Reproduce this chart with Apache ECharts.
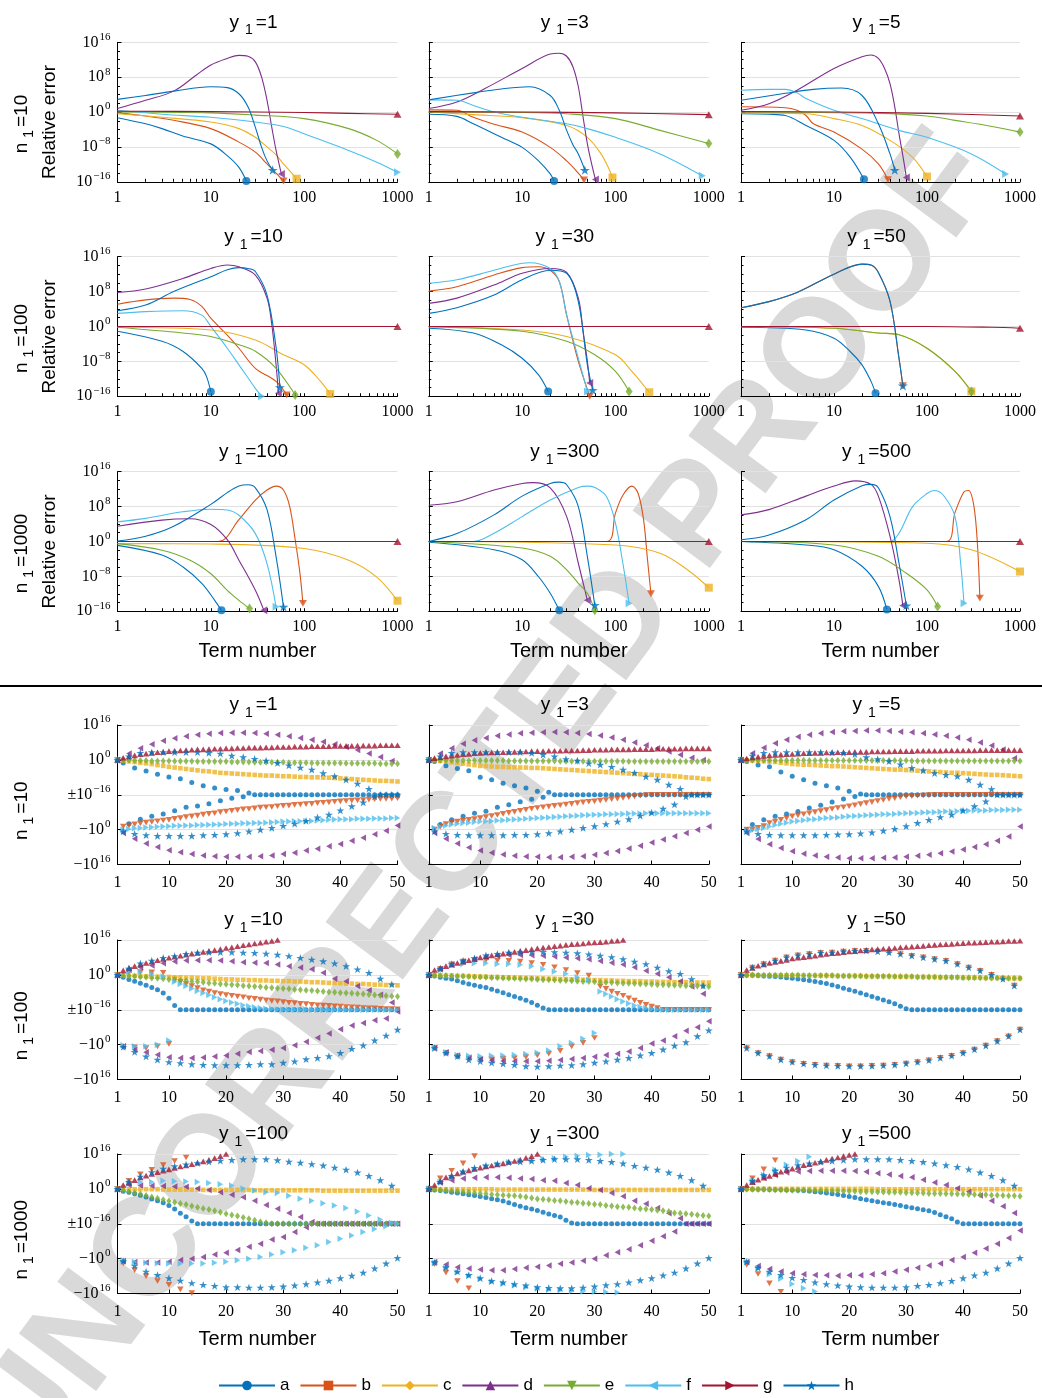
<!DOCTYPE html>
<html><head><meta charset="utf-8">
<script src="https://cdn.jsdelivr.net/npm/echarts@6/dist/echarts.min.js"></script>
<style>html,body{margin:0;padding:0;background:#fff}#c{width:1042px;height:1398px}</style>
</head><body><div id="c"></div>
<script>
// ---------- TOP PANELS: [term, log10(relative error)] ----------
const T1_a=[[1,-1.3],[2,-2.7],[3,-3.8],[5,-5.5],[10,-7.3],[15,-10],[20,-12.7],[24,-15.8]];
const T1_b=[[1,-0.2],[2,-0.9],[4,-1.9],[10,-3.8],[20,-6.9],[30,-9.2],[40,-11.9],[50,-14],[60,-15.8]];
const T1_c=[[1,-0.4],[3,-1.2],[10,-2.3],[20,-3.8],[30,-5.8],[40,-8],[50,-9.8],[60,-11.9],[70,-13.5],[83,-15.3]];
const T1_d=[[1,0.8],[2,2.7],[4,4.8],[7,8.5],[10,10.8],[15,12.3],[20,13],[25,12.8],[30,11.5],[35,8],[40,2.7],[45,-3.5],[50,-8.8],[57,-14.2]];
const T1_e=[[1,0],[10,-0.2],[30,-0.7],[100,-1.5],[300,-3.8],[600,-6.5],[1000,-9.6]];
const T1_f=[[1,0.4],[3,-0.5],[10,-1.2],[30,-2.3],[60,-3.3],[100,-5],[300,-8.8],[600,-11.5],[1000,-13.8]];
const T1_g=[[1,0.2],[10,0.1],[100,-0.1],[300,-0.3],[1000,-0.5]];
const T1_h=[[1,2.9],[2,3.8],[4,4.8],[10,5.8],[15,5.6],[20,4.2],[25,1.2],[30,-3.5],[35,-8.1],[40,-11.2],[46,-13.3]];

const T2_a=[[1,-0.5],[2,-1],[3,-2.7],[6,-5.8],[10,-8.1],[15,-11.2],[20,-14.2],[22,-15.8]];
const T2_b=[[1,0.5],[2,0.4],[3,-1.2],[5,-2.8],[10,-4.6],[20,-8.1],[30,-11.2],[40,-14],[46,-15.6]];
const T2_c=[[1,0],[3,-0.6],[10,-1.3],[30,-3.1],[50,-5.8],[70,-9.6],[85,-13],[93,-15]];
const T2_d=[[1,0.8],[2,2.3],[4,5.4],[10,10],[20,13.3],[25,13.5],[30,12.8],[35,10.4],[40,5.8],[45,-1.2],[50,-7.3],[55,-11.5],[61,-15.5]];
const T2_e=[[1,0],[10,-0.1],[30,-0.4],[100,-1.5],[300,-4.2],[1000,-7.2]];
const T2_f=[[1,2.8],[2,2.7],[3,1.5],[5,0],[10,-1.2],[30,-2.7],[50,-3.8],[100,-5.8],[300,-9.6],[850,-14.6]];
const T2_g=[[1,0.1],[10,0],[100,-0.2],[1000,-0.6]];
const T2_h=[[1,2.8],[3,4.4],[6,5.3],[12,5.8],[20,3.8],[25,0.4],[30,-4.2],[35,-7.5],[40,-9.6],[47,-13.3]];

const T3_a=[[1,-0.4],[2,-0.5],[3,-0.8],[5,-3.1],[10,-6.5],[15,-10.4],[21,-15.4]];
const T3_b=[[1,1.2],[3,1],[4,0.4],[5,-0.8],[6,-2.7],[10,-4.6],[20,-8.5],[30,-11.9],[38,-15.5]];
const T3_c=[[1,-0.2],[5,-0.4],[10,-1.5],[20,-3.1],[40,-6.5],[70,-10.4],[100,-14.8]];
const T3_d=[[1,0.4],[2,1.9],[4,5],[10,10],[20,12.7],[25,13.1],[30,12.3],[35,10],[40,6.5],[45,1.2],[50,-5],[55,-10],[60,-15]];
const T3_e=[[1,0],[30,-0.3],[100,-0.9],[200,-1.9],[500,-3.3],[1000,-4.6]];
const T3_f=[[1,5],[2,5.2],[3,5.2],[4,4.4],[5,3.1],[10,0.4],[20,-1.5],[50,-4.2],[100,-5.8],[300,-9.6],[700,-14.2]];
const T3_g=[[1,0.1],[10,0],[100,-0.3],[1000,-0.9]];
const T3_h=[[1,2.7],[3,4.3],[6,5.2],[12,5.5],[20,3.8],[30,-2.7],[40,-9.6],[45,-13.3]];

const T4_a=[[1,-1.1],[3,-3.4],[5,-5.7],[8,-9.6],[9,-11.5],[10,-15]];
const T4_b=[[1,5.1],[2,6.1],[4,6.5],[6,6.2],[8,4.6],[10,1.9],[15,-2],[20,-5],[30,-9.6],[50,-12.6],[65,-15.7]];
const T4_c=[[1,-0.2],[10,-0.8],[30,-3.1],[60,-6.5],[100,-8.8],[150,-12.6],[190,-15.5]];
const T4_d=[[1,7.8],[2,8.6],[5,11],[10,13.3],[15,14.1],[20,13.7],[30,11.8],[40,6.5],[45,0.4],[50,-8.8],[53,-15.3]];
const T4_e=[[1,-0.2],[5,-1.5],[10,-2.3],[20,-4.2],[30,-5.7],[50,-9.6],[80,-15.7]];
const T4_f=[[1,3],[2,3.4],[5,3.6],[8,2.6],[10,0],[15,-5],[20,-8.8],[30,-14.2],[35,-16]];
const T4_g=[[1,0],[10,0],[100,0],[1000,0]];
const T4_h=[[1,3.6],[2,4.9],[4,8],[10,11.4],[15,13],[20,13.5],[25,13.3],[30,12.6],[40,7.2],[50,-4.8],[55,-14]];

const T5_a=[[1,-0.4],[3,-1.5],[6,-4.2],[10,-7.3],[15,-11.1],[19,-14.9]];
const T5_b=[[1,8.1],[2,9.1],[5,11.8],[10,13.5],[15,13.7],[20,12.9],[25,10.3],[30,2.6],[40,-8],[53,-16]];
const T5_c=[[1,0],[10,-0.8],[30,-2.3],[100,-6.5],[150,-10.3],[230,-15.1]];
const T5_d=[[1,5.3],[2,6.5],[5,9.5],[10,12.2],[20,13.3],[30,12.4],[40,6.5],[45,-1.2],[50,-8],[53,-13]];
const T5_e=[[1,-0.1],[10,-1.1],[30,-3.4],[60,-6.5],[100,-10.3],[140,-14.9]];
const T5_f=[[1,9.9],[2,10.7],[5,12.9],[10,14.5],[12,14.6],[20,13.3],[25,10.3],[30,2.6],[40,-7.3],[50,-14.9]];
const T5_g=[[1,0],[1000,0]];
const T5_h=[[1,3],[2,4.3],[5,7.2],[10,10.7],[20,12.9],[30,12.2],[40,5.7],[50,-8.8],[57,-14.6]];

const T6_a=[[1,-0.2],[5,-0.8],[10,-2.7],[15,-5.8],[20,-8.8],[25,-12.6],[28,-15.3]];
const T6_ce=[[1,0],[10,-0.4],[30,-1.5],[50,-1.9],[100,-5],[200,-10.3],[300,-14.9]];
const T6_g=[[1,0],[100,0],[500,-0.2],[1000,-0.4]];
const T6_h=[[1,4.3],[2,5.7],[4,7.8],[10,12],[20,14.3],[25,14.1],[30,12.4],[40,5.8],[50,-7.3],[55,-13.6]];

const T7_a=[[1,-0.9],[3,-3.1],[5,-5.8],[8,-9.6],[11,-13.5],[13,-15.8]];
const T7_b=[[1,0],[12,0],[20,5],[30,9.5],[40,11.8],[50,12.7],[60,11.8],[70,8],[80,0.5],[90,-7.2],[97,-14.2]];
const T7_c=[[1,-0.5],[10,-0.6],[100,-1.6],[300,-4.3],[600,-8.2],[1000,-13.6]];
const T7_d=[[1,3.5],[3,4.9],[6,5.2],[10,3.9],[15,0.4],[20,-4.3],[30,-11.2],[37,-15.8]];
const T7_e=[[1,-0.5],[3,-2],[6,-4.3],[10,-7.4],[15,-11.2],[20,-13.5],[26,-15.4]];
const T7_f=[[1,4.5],[2,5.3],[5,6.8],[10,7.4],[15,7.2],[20,6],[30,1.8],[40,-5.1],[50,-15]];
const T7_g=[[1,0],[1000,0]];
const T7_h=[[1,0.1],[2,1.2],[4,3.5],[10,8.5],[15,11.2],[20,12.7],[25,13],[30,12.3],[40,7.3],[50,-3.5],[60,-15]];

const T8_a=[[1,-0.2],[5,-1.9],[10,-4.2],[15,-8.1],[20,-11.9],[25,-15.8]];
const T8_b=[[1,0],[80,0],[100,6.5],[120,10.6],[150,12.7],[175,11],[200,5],[220,-4],[240,-12]];
const T8_c=[[1,0],[100,-0.8],[300,-2.7],[600,-6.6],[1000,-10.6]];
const T8_d=[[1,8.3],[2,9.1],[5,11.8],[10,13.3],[13,13.5],[20,12.3],[30,5.7],[40,-5],[50,-13.5]];
const T8_e=[[1,0],[10,-1.5],[20,-3.4],[30,-6.5],[40,-9.6],[50,-11.9],[60,-15.8]];
const T8_f=[[1,0],[3,0],[5,1.9],[10,5.7],[20,9.5],[40,12.4],[50,12.7],[60,12.4],[80,10.3],[100,4.2],[120,-5],[140,-14.2]];
const T8_g=[[1,0],[1000,0]];
const T8_h=[[1,0],[2,1.8],[5,6.1],[10,10.4],[20,13.3],[25,13.6],[30,13],[40,8],[50,-3.5],[60,-14.6]];

const T9_a=[[1,0],[5,-0.8],[10,-1.9],[20,-5.7],[30,-10.3],[37,-15.6]];
const T9_b=[[1,0],[160,0],[200,6.6],[250,11.4],[280,11.7],[320,8],[350,-1.2],[370,-13]];
const T9_c=[[1,0],[100,-0.4],[300,-1.9],[1000,-6.9]];
const T9_d=[[1,6.1],[2,7.3],[5,10.4],[10,12.7],[17,13.9],[25,13.1],[30,10.4],[40,1.2],[50,-8.8],[55,-14.7]];
const T9_e=[[1,0],[10,-0.8],[30,-3.4],[60,-7.3],[100,-11.1],[130,-14.9]];
const T9_f=[[1,0],[40,0],[50,1.9],[70,8],[100,11],[120,11.7],[150,10.6],[200,5.7],[230,-5],[250,-14.2]];
const T9_g=[[1,0],[1000,0]];
const T9_h=[[1,0.4],[2,1.5],[5,5],[10,9.5],[20,12.8],[25,13.1],[30,12.3],[40,5.7],[50,-5],[60,-14.7]];

// ---------- BOTTOM PANELS: signed-log coordinate for terms 1..50 ----------
// +2 = 1e16, +1 = 1e0, 0 = ±1e-16, -1 = -1e0, -2 = -1e16
const B1_a=[1,0.91,-0.83,0.77,-0.7,0.68,-0.62,0.59,-0.55,0.51,-0.46,0.46,-0.36,0.35,-0.32,0.26,-0.26,0.19,-0.17,0.15,-0.1,0.12,-0.06,0.05,0,0,0,0,0,0,0,0,0,0,0,0,0,0,0,0,0,0,0,0,0,0,0,0,0,0];
const B1_b=[1,-0.91,-0.88,-0.85,-0.82,-0.8,-0.78,-0.76,-0.74,-0.72,-0.69,-0.67,-0.64,-0.62,-0.6,-0.57,-0.55,-0.53,-0.5,-0.48,-0.46,-0.44,-0.42,-0.41,-0.39,-0.37,-0.36,-0.35,-0.33,-0.32,-0.31,-0.29,-0.28,-0.27,-0.26,-0.24,-0.23,-0.22,-0.2,-0.19,-0.18,-0.17,-0.16,-0.15,-0.14,-0.13,-0.12,-0.12,-0.11,-0.1];
const B1_c=[1,0.98,0.96,0.94,0.92,0.9,0.88,0.85,0.83,0.8,0.78,0.76,0.74,0.72,0.7,0.68,0.67,0.65,0.63,0.62,0.61,0.6,0.59,0.58,0.57,0.56,0.55,0.55,0.54,0.53,0.53,0.52,0.51,0.51,0.5,0.5,0.49,0.49,0.48,0.47,0.46,0.45,0.44,0.43,0.42,0.41,0.4,0.4,0.39,0.38];
const B1_d=[1,-1.1,1.18,-1.26,1.33,-1.4,1.45,-1.5,1.55,-1.59,1.62,-1.65,1.68,-1.7,1.72,-1.74,1.75,-1.76,1.77,-1.78,1.78,-1.78,1.78,-1.78,1.77,-1.76,1.75,-1.74,1.72,-1.7,1.68,-1.66,1.63,-1.6,1.58,-1.55,1.52,-1.48,1.45,-1.41,1.37,-1.32,1.28,-1.23,1.18,-1.13,1.08,-1.03,0.97,-0.88];
const B1_e=[1,0.99,0.99,0.98,0.98,0.98,0.97,0.97,0.97,0.97,0.96,0.96,0.96,0.96,0.95,0.95,0.95,0.95,0.95,0.95,0.94,0.94,0.94,0.94,0.93,0.93,0.93,0.93,0.93,0.93,0.92,0.92,0.92,0.92,0.91,0.91,0.91,0.91,0.91,0.91,0.9,0.9,0.9,0.9,0.9,0.9,0.89,0.89,0.89,0.89];
const B1_f=[1,-1,-0.98,-0.96,-0.95,-0.94,-0.93,-0.92,-0.91,-0.9,-0.89,-0.89,-0.88,-0.88,-0.87,-0.87,-0.86,-0.85,-0.85,-0.84,-0.83,-0.83,-0.82,-0.82,-0.81,-0.81,-0.8,-0.79,-0.78,-0.77,-0.77,-0.76,-0.76,-0.75,-0.75,-0.74,-0.73,-0.72,-0.71,-0.7,-0.7,-0.7,-0.69,-0.69,-0.69,-0.68,-0.68,-0.68,-0.67,-0.67];
const B1_g=[1,1.06,1.1,1.13,1.16,1.18,1.2,1.22,1.23,1.25,1.26,1.27,1.28,1.29,1.3,1.3,1.31,1.32,1.32,1.33,1.33,1.34,1.34,1.35,1.35,1.35,1.36,1.36,1.37,1.37,1.37,1.38,1.38,1.38,1.39,1.39,1.39,1.39,1.4,1.4,1.4,1.4,1.41,1.41,1.41,1.41,1.42,1.42,1.42,1.42];
const B1_h=[1,-1.05,1.1,-1.12,1.2,-1.16,1.22,-1.18,1.22,-1.18,1.22,-1.18,1.22,-1.18,1.22,-1.16,1.2,-1.15,1.18,-1.13,1.12,-1.1,1.08,-1.05,1.03,-1,0.98,-0.95,0.91,-0.89,0.84,-0.83,0.78,-0.75,0.72,-0.65,0.62,-0.57,0.53,-0.45,0.43,-0.33,0.32,-0.22,0.17,-0.05,0,0,0,0];

const B2_a=[1,0.95,-0.85,0.83,-0.72,0.75,-0.62,0.69,-0.53,0.5,-0.47,0.43,-0.36,0.33,-0.29,0.26,-0.2,0.19,-0.13,0.1,-0.07,0.07,0,0,0,0,0,0,0,0,0,0,0,0,0,0,0,0,0,0,0,0,0,0,0,0,0,0,0,0];
const B2_b=[1,-1,-0.92,-0.84,-0.8,-0.77,-0.75,-0.72,-0.7,-0.67,-0.64,-0.61,-0.58,-0.55,-0.52,-0.49,-0.46,-0.43,-0.4,-0.38,-0.36,-0.34,-0.32,-0.3,-0.28,-0.26,-0.24,-0.22,-0.2,-0.19,-0.17,-0.15,-0.13,-0.11,-0.09,-0.07,-0.05,-0.03,-0.01,0,0,0,0,0,0,0,0,0,0,0];
const B2_c=[1,0.99,0.97,0.95,0.93,0.91,0.89,0.87,0.85,0.83,0.82,0.81,0.8,0.8,0.79,0.79,0.78,0.78,0.77,0.77,0.76,0.75,0.74,0.73,0.72,0.71,0.7,0.69,0.68,0.67,0.66,0.65,0.64,0.63,0.62,0.61,0.6,0.59,0.58,0.57,0.56,0.55,0.54,0.53,0.52,0.5,0.49,0.48,0.46,0.45];
const B2_d=[1,-1.1,1.18,-1.26,1.33,-1.4,1.46,-1.51,1.56,-1.6,1.63,-1.66,1.69,-1.71,1.73,-1.75,1.76,-1.77,1.78,-1.78,1.79,-1.79,1.8,-1.79,1.79,-1.78,1.77,-1.76,1.74,-1.72,1.7,-1.67,1.64,-1.61,1.58,-1.54,1.5,-1.46,1.42,-1.37,1.33,-1.28,1.24,-1.19,1.15,-1.1,1.06,-1,1,-0.91];
const B2_e=[1,0.99,0.99,0.99,0.99,0.99,0.98,0.98,0.98,0.98,0.98,0.98,0.98,0.98,0.97,0.97,0.97,0.97,0.97,0.97,0.97,0.97,0.97,0.96,0.96,0.96,0.96,0.96,0.96,0.96,0.96,0.96,0.96,0.96,0.96,0.95,0.95,0.95,0.95,0.95,0.95,0.95,0.95,0.95,0.95,0.95,0.95,0.95,0.95,0.95];
const B2_f=[1,-0.95,-0.91,-0.88,-0.85,-0.83,-0.81,-0.8,-0.78,-0.77,-0.76,-0.75,-0.74,-0.73,-0.72,-0.71,-0.7,-0.69,-0.68,-0.67,-0.66,-0.65,-0.64,-0.63,-0.62,-0.61,-0.6,-0.59,-0.58,-0.57,-0.57,-0.56,-0.56,-0.55,-0.55,-0.54,-0.54,-0.54,-0.53,-0.53,-0.53,-0.53,-0.53,-0.53,-0.53,-0.53,-0.53,-0.53,-0.53,-0.53];
const B2_g=[1,1.05,1.08,1.1,1.12,1.14,1.16,1.17,1.19,1.2,1.21,1.21,1.22,1.22,1.23,1.23,1.24,1.24,1.25,1.25,1.25,1.26,1.26,1.26,1.27,1.27,1.27,1.28,1.28,1.29,1.29,1.29,1.3,1.3,1.3,1.3,1.31,1.31,1.31,1.31,1.32,1.32,1.32,1.32,1.32,1.33,1.33,1.33,1.33,1.33];
const B2_h=[1,-1.05,1.1,-1.12,1.2,-1.15,1.22,-1.16,1.22,-1.16,1.22,-1.16,1.22,-1.16,1.22,-1.15,1.22,-1.15,1.2,-1.13,1.15,-1.1,1.1,-1.05,1.02,-1,0.98,-0.95,0.9,-0.9,0.86,-0.84,0.8,-0.77,0.72,-0.7,0.63,-0.6,0.52,-0.51,0.43,-0.4,0.29,-0.28,0.17,-0.05,0,0,0,0];

const B3_a=[1,0.95,-0.85,0.85,-0.72,0.8,-0.62,0.65,-0.55,0.53,-0.48,0.43,-0.38,0.33,-0.3,0.26,-0.21,0.19,-0.12,0.1,-0.05,0.02,0,0,0,0,0,0,0,0,0,0,0,0,0,0,0,0,0,0,0,0,0,0,0,0,0,0,0,0];
const B3_b=[1,-1,-1,-0.95,-0.9,-0.81,-0.77,-0.72,-0.67,-0.62,-0.59,-0.56,-0.53,-0.5,-0.47,-0.44,-0.41,-0.38,-0.36,-0.33,-0.3,-0.27,-0.24,-0.21,-0.18,-0.15,-0.12,-0.1,-0.07,-0.05,-0.04,-0.03,-0.02,-0.01,0,0,0,0,0,0,0,0,0,0,0,0,0,0,0,0];
const B3_c=[1,0.99,0.98,0.97,0.96,0.95,0.94,0.92,0.9,0.88,0.87,0.86,0.86,0.85,0.84,0.83,0.82,0.82,0.81,0.8,0.79,0.78,0.77,0.76,0.75,0.74,0.73,0.72,0.72,0.71,0.7,0.69,0.68,0.67,0.66,0.65,0.64,0.63,0.63,0.62,0.61,0.6,0.59,0.58,0.57,0.57,0.56,0.55,0.54,0.53];
const B3_d=[1,-1.1,1.19,-1.27,1.35,-1.42,1.48,-1.53,1.58,-1.62,1.66,-1.69,1.72,-1.74,1.76,-1.78,1.8,-1.8,1.82,-1.82,1.83,-1.82,1.84,-1.82,1.84,-1.81,1.83,-1.8,1.81,-1.78,1.79,-1.75,1.76,-1.72,1.73,-1.68,1.69,-1.63,1.64,-1.57,1.58,-1.5,1.5,-1.42,1.41,-1.32,1.3,-1.2,1.05,-0.91];
const B3_e=[1,0.99,0.99,0.99,0.99,0.99,0.99,0.99,0.99,0.99,0.99,0.99,0.98,0.98,0.98,0.98,0.98,0.98,0.98,0.98,0.98,0.98,0.98,0.98,0.98,0.98,0.98,0.98,0.98,0.98,0.97,0.97,0.97,0.97,0.97,0.97,0.97,0.97,0.97,0.97,0.97,0.97,0.97,0.97,0.97,0.97,0.97,0.97,0.97,0.97];
const B3_f=[1,-1.05,-1.02,-0.98,-0.95,-0.91,-0.87,-0.83,-0.8,-0.77,-0.75,-0.73,-0.71,-0.7,-0.68,-0.67,-0.66,-0.65,-0.63,-0.62,-0.61,-0.6,-0.59,-0.58,-0.57,-0.56,-0.56,-0.55,-0.54,-0.53,-0.52,-0.52,-0.51,-0.5,-0.5,-0.49,-0.48,-0.48,-0.47,-0.46,-0.46,-0.45,-0.45,-0.45,-0.44,-0.44,-0.44,-0.43,-0.43,-0.43];
const B3_g=[1,1.04,1.07,1.09,1.11,1.13,1.14,1.15,1.16,1.17,1.18,1.19,1.19,1.2,1.2,1.21,1.21,1.22,1.22,1.22,1.23,1.23,1.23,1.24,1.24,1.24,1.24,1.25,1.25,1.25,1.25,1.26,1.26,1.26,1.26,1.26,1.27,1.27,1.27,1.27,1.27,1.27,1.28,1.28,1.28,1.28,1.28,1.28,1.28,1.28];
const B3_h=[1,-1.05,1.12,-1.12,1.2,-1.15,1.22,-1.16,1.22,-1.16,1.22,-1.16,1.22,-1.16,1.22,-1.15,1.21,-1.14,1.2,-1.13,1.16,-1.11,1.08,-1.08,1.02,-1.03,0.96,-0.98,0.87,-0.9,0.77,-0.81,0.7,-0.72,0.62,-0.64,0.57,-0.57,0.53,-0.45,0.43,-0.33,0.29,-0.19,0.16,0,0,0,0,0];

const B4_a=[1,0.93,0.87,0.82,0.76,0.7,0.64,0.57,0.48,0.33,0.12,0,0,0,0,0,0,0,0,0,0,0,0,0,0,0,0,0,0,0,0,0,0,0,0,0,0,0,0,0,0,0,0,0,0,0,0,0,0,0];
const B4_b=[1,-1.07,1.07,-1.08,1.08,-1.1,1.07,-1.05,1.06,-0.98,0.87,0.8,0.74,0.68,0.62,0.56,0.52,0.48,0.45,0.42,0.4,0.38,0.36,0.33,0.31,0.29,0.27,0.25,0.24,0.22,0.2,0.19,0.17,0.16,0.14,0.13,0.12,0.11,0.1,0.09,0.08,0.07,0.06,0.05,0.04,0.04,0.03,0.02,0.02,0.01];
const B4_c=[1,0.99,0.98,0.97,0.97,0.96,0.95,0.95,0.94,0.94,0.93,0.93,0.92,0.92,0.91,0.9,0.9,0.89,0.88,0.87,0.87,0.86,0.86,0.85,0.85,0.84,0.84,0.83,0.83,0.82,0.82,0.81,0.81,0.8,0.79,0.79,0.78,0.77,0.77,0.76,0.75,0.75,0.74,0.74,0.73,0.72,0.72,0.71,0.71,0.7];
const B4_d=[1,-1.05,1.15,-1.15,1.22,-1.22,1.27,-1.29,1.33,-1.36,1.38,-1.38,1.41,-1.38,1.42,-1.37,1.42,-1.34,1.41,-1.31,1.39,-1.26,1.36,-1.21,1.35,-1.18,1.34,-1.15,1.3,-1.1,1.25,-1.02,1.21,-0.92,1.16,-0.8,1.06,-0.68,0.89,-0.56,0.82,-0.45,0.68,-0.38,0.56,-0.3,0.43,-0.25,0.21,-0.05];
const B4_e=[1,0.98,0.97,0.96,0.94,0.93,0.91,0.9,0.89,0.87,0.86,0.84,0.83,0.81,0.8,0.79,0.77,0.76,0.74,0.73,0.72,0.71,0.69,0.68,0.67,0.66,0.64,0.63,0.62,0.61,0.6,0.58,0.57,0.56,0.55,0.54,0.52,0.51,0.5,0.49,0.48,0.47,0.46,0.45,0.44,0.42,0.41,0.4,0.39,0.38];
const B4_f=[1,-1.02,1.1,-1.05,1.08,-1.05,1.03,-1,0.95,-0.88,0.8,0.74,0.68,0.61,0.54,0.48,0.42,0.36,0.3,0.25,0.21,0.17,0.13,0.1,0.07,0.05,0.03,0.02,0.01,0,0,0,0,0,0,0,0,0,0,0,0,0,0,0,0,0,0,0,0,0];
const B4_g=[1,1.13,1.2,1.25,1.3,1.34,1.38,1.42,1.46,1.49,1.52,1.55,1.58,1.61,1.63,1.66,1.69,1.71,1.74,1.77,1.79,1.82,1.85,1.87,1.9,1.92,1.95,1.97,2];
const B4_h=[1,-1.07,1.18,-1.21,1.33,-1.34,1.41,-1.43,1.49,-1.5,1.54,-1.53,1.6,-1.56,1.64,-1.58,1.65,-1.59,1.65,-1.59,1.65,-1.59,1.64,-1.58,1.63,-1.56,1.61,-1.56,1.58,-1.52,1.54,-1.48,1.49,-1.42,1.44,-1.38,1.39,-1.33,1.33,-1.24,1.25,-1.12,1.16,-1.02,1.06,-0.88,0.89,-0.74,0.73,-0.57];

const B5_a=[1,0.97,0.93,0.9,0.88,0.83,0.78,0.74,0.7,0.67,0.64,0.59,0.54,0.49,0.43,0.38,0.33,0.27,0.21,0.13,0.05,0,0,0,0,0,0,0,0,0,0,0,0,0,0,0,0,0,0,0,0,0,0,0,0,0,0,0,0,0];
const B5_b=[1,-1.1,1.17,-1.25,1.3,-1.35,1.38,-1.4,1.42,-1.43,1.42,-1.42,1.41,-1.41,1.4,-1.39,1.38,-1.36,1.34,-1.31,1.29,-1.26,1.22,-1.18,1.14,-1.05,1.05,-0.95,0.98,-0.81,0.67,0.6,0.52,0.46,0.4,0.33,0.26,0.2,0.14,0.09,0.05,0,0,0,0,0,0,0,0,0];
const B5_c=[1,0.99,0.99,0.98,0.98,0.97,0.97,0.96,0.96,0.95,0.95,0.94,0.94,0.93,0.93,0.92,0.92,0.91,0.91,0.9,0.9,0.89,0.89,0.88,0.88,0.87,0.87,0.86,0.86,0.85,0.85,0.84,0.84,0.83,0.83,0.82,0.82,0.82,0.81,0.81,0.8,0.8,0.8,0.79,0.79,0.79,0.78,0.78,0.78,0.78];
const B5_d=[1,-1.1,1.17,-1.22,1.3,-1.31,1.38,-1.37,1.45,-1.42,1.52,-1.45,1.55,-1.47,1.57,-1.48,1.57,-1.48,1.56,-1.48,1.55,-1.46,1.53,-1.44,1.5,-1.41,1.48,-1.38,1.45,-1.35,1.4,-1.3,1.35,-1.26,1.3,-1.2,1.22,-1.1,1.12,-0.97,1.03,-0.88,0.93,-0.76,0.82,-0.6,0.67,-0.5,0.46,-0.33];
const B5_e=[1,0.99,0.98,0.98,0.97,0.96,0.96,0.95,0.94,0.94,0.93,0.92,0.92,0.91,0.9,0.9,0.89,0.88,0.88,0.87,0.86,0.86,0.85,0.84,0.84,0.83,0.82,0.81,0.81,0.8,0.79,0.78,0.78,0.77,0.76,0.76,0.75,0.74,0.74,0.73,0.72,0.72,0.71,0.7,0.7,0.69,0.69,0.68,0.68,0.67];
const B5_f=[1,-1.1,1.15,-1.22,1.28,-1.3,1.31,-1.32,1.33,-1.33,1.33,-1.32,1.31,-1.31,1.31,-1.3,1.29,-1.27,1.25,-1.23,1.17,-1.17,1.1,-1.05,1.03,-0.95,0.93,-0.83,0.85,-0.67,0.52,0.45,0.38,0.3,0.24,0.18,0.12,0.08,0.04,0.02,0.01,0,0,0,0,0,0,0,0,0];
const B5_g=[1,1.14,1.2,1.25,1.29,1.34,1.38,1.42,1.46,1.5,1.53,1.56,1.59,1.61,1.64,1.66,1.69,1.71,1.74,1.76,1.78,1.8,1.82,1.84,1.86,1.88,1.89,1.9,1.92,1.93,1.94,1.95,1.97,1.98,2];
const B5_h=[1,-1.1,1.17,-1.24,1.31,-1.33,1.41,-1.43,1.48,-1.48,1.56,-1.52,1.6,-1.55,1.64,-1.58,1.65,-1.62,1.66,-1.63,1.66,-1.62,1.65,-1.6,1.64,-1.59,1.62,-1.56,1.59,-1.52,1.55,-1.48,1.51,-1.43,1.45,-1.38,1.38,-1.31,1.31,-1.24,1.21,-1.14,1.11,-1.03,1.03,-0.93,0.88,-0.76,0.69,-0.59];

const B6_a=[1,0.99,0.99,0.98,0.97,0.96,0.95,0.94,0.92,0.9,0.88,0.86,0.84,0.81,0.78,0.75,0.71,0.67,0.62,0.57,0.53,0.48,0.43,0.38,0.33,0.28,0.23,0.17,0.1,0.03,0,0,0,0,0,0,0,0,0,0,0,0,0,0,0,0,0,0,0,0];
const B6_ce=[1,1,1,0.99,0.99,0.99,0.99,0.99,0.99,0.99,0.99,0.98,0.98,0.98,0.98,0.98,0.98,0.97,0.97,0.97,0.97,0.97,0.96,0.96,0.96,0.96,0.96,0.95,0.95,0.95,0.95,0.94,0.94,0.94,0.94,0.93,0.93,0.93,0.93,0.92,0.92,0.92,0.92,0.91,0.91,0.91,0.91,0.9,0.9,0.9];
const B6_g=[1,1.14,1.2,1.26,1.3,1.34,1.37,1.4,1.43,1.47,1.49,1.51,1.53,1.55,1.58,1.6,1.62,1.63,1.65,1.67,1.68,1.7,1.71,1.73,1.74,1.75,1.76,1.77,1.79,1.8,1.81,1.82,1.83,1.85,1.86,1.87,1.88,1.89,1.9,1.91,1.92,1.92,1.93,1.94,1.95,1.95,1.96,1.97,1.97,1.98];
const B6_h=[1,-1.1,1.21,-1.24,1.31,-1.33,1.41,-1.43,1.5,-1.5,1.56,-1.55,1.6,-1.58,1.63,-1.6,1.64,-1.61,1.67,-1.62,1.69,-1.62,1.69,-1.61,1.67,-1.6,1.64,-1.58,1.6,-1.54,1.55,-1.5,1.5,-1.45,1.45,-1.38,1.4,-1.32,1.31,-1.24,1.21,-1.14,1.12,-1.03,1,-0.9,0.88,-0.76,0.69,-0.57];

const B7_a=[1,0.93,0.9,0.86,0.82,0.77,0.71,0.66,0.6,0.52,0.42,0.3,0.2,0.08,0,0,0,0,0,0,0,0,0,0,0,0,0,0,0,0,0,0,0,0,0,0,0,0,0,0,0,0,0,0,0,0,0,0,0,0];
const B7_b=[1,-1.14,1.23,-1.33,1.42,-1.5,1.55,-1.64,1.68,-1.75,1.8,-1.88,1.9,-1.99];
const B7_c=[1,1,0.99,0.99,0.99,0.99,0.99,0.99,0.98,0.98,0.98,0.98,0.98,0.98,0.98,0.97,0.97,0.97,0.97,0.97,0.97,0.97,0.97,0.97,0.96,0.96,0.96,0.96,0.96,0.96,0.96,0.96,0.96,0.96,0.96,0.96,0.95,0.95,0.95,0.95,0.95,0.95,0.95,0.95,0.95,0.95,0.95,0.95,0.95,0.95];
const B7_d=[1,-1.07,1.11,-1.1,1.1,-1.11,1.09,-1.11,1.08,-1.09,1.07,-1.04,1.06,-1,1.01,-0.95,0.97,-0.88,0.9,-0.83,0.83,-0.75,0.76,-0.66,0.66,-0.57,0.54,-0.45,0.43,-0.38,0.31,-0.24,0.19,-0.1,0.05,0,0,0,0,0,0,0,0,0,0,0,0,0,0,0];
const B7_e=[1,0.96,0.92,0.88,0.85,0.81,0.77,0.73,0.69,0.65,0.62,0.58,0.55,0.51,0.47,0.44,0.41,0.37,0.33,0.29,0.25,0.22,0.18,0.14,0.1,0.06,0.03,0,0,0,0,0,0,0,0,0,0,0,0,0,0,0,0,0,0,0,0,0,0,0];
const B7_f=[1,-1.05,1.15,-1.1,1.2,-1.12,1.2,-1.13,1.23,-1.14,1.22,-1.14,1.21,-1.14,1.2,-1.14,1.17,-1.12,1.13,-1.09,1.1,-1.05,1.01,-1,0.95,-0.95,0.9,-0.88,0.88,-0.82,0.8,-0.76,0.72,-0.69,0.66,-0.62,0.59,-0.52,0.52,-0.43,0.45,-0.34,0.35,-0.24,0.24,-0.15,0.12,-0.07,0.02,0];
const B7_g=[1,1.11,1.18,1.25,1.33,1.38,1.43,1.48,1.52,1.56,1.6,1.64,1.67,1.71,1.75,1.79,1.83,1.88,1.94,2];
const B7_h=[1,-1.07,1.2,-1.2,1.35,-1.37,1.48,-1.47,1.58,-1.56,1.65,-1.63,1.7,-1.7,1.74,-1.75,1.78,-1.78,1.81,-1.82,1.83,-1.82,1.85,-1.83,1.85,-1.83,1.85,-1.82,1.82,-1.8,1.78,-1.77,1.75,-1.73,1.71,-1.68,1.67,-1.63,1.61,-1.56,1.55,-1.49,1.47,-1.4,1.37,-1.28,1.25,-1.14,1.09,-0.98];

const B8_a=[1,0.97,0.95,0.93,0.9,0.88,0.86,0.83,0.81,0.78,0.75,0.72,0.69,0.65,0.6,0.55,0.5,0.46,0.42,0.38,0.33,0.28,0.24,0.19,0.1,0.02,0,0,0,0,0,0,0,0,0,0,0,0,0,0,0,0,0,0,0,0,0,0,0,0];
const B8_b=[1,-1.16,1.3,-1.4,1.52,-1.64,1.73,-1.85,1.94];
const B8_c=[1,1,0.99,0.99,0.99,0.99,0.99,0.99,0.99,0.99,0.99,0.99,0.98,0.98,0.98,0.98,0.98,0.98,0.98,0.98,0.98,0.98,0.98,0.98,0.98,0.98,0.98,0.98,0.98,0.97,0.97,0.97,0.97,0.97,0.97,0.97,0.97,0.97,0.97,0.97,0.97,0.97,0.97,0.97,0.97,0.97,0.97,0.97,0.97,0.97];
const B8_d=[1,-1.1,1.18,-1.17,1.25,-1.25,1.3,-1.28,1.32,-1.31,1.33,-1.33,1.33,-1.33,1.32,-1.3,1.3,-1.26,1.28,-1.23,1.25,-1.2,1.23,-1.15,1.17,-1.11,1.11,-1.06,1.02,-1,0.97,-0.9,0.88,-0.82,0.79,-0.73,0.66,-0.62,0.57,-0.49,0.45,-0.36,0.3,-0.22,0.16,0,0,0,0,0];
const B8_e=[1,0.99,0.97,0.96,0.94,0.93,0.91,0.9,0.88,0.87,0.86,0.84,0.83,0.82,0.81,0.8,0.79,0.77,0.74,0.71,0.7,0.69,0.67,0.66,0.64,0.62,0.61,0.59,0.58,0.56,0.55,0.52,0.51,0.49,0.48,0.47,0.45,0.43,0.42,0.41,0.39,0.37,0.35,0.31,0.3,0.29,0.27,0.25,0.24,0.22];
const B8_f=[1,-1.12,1.2,-1.27,1.32,-1.4,1.45,-1.5,1.55,-1.58,1.62,-1.66,1.7,-1.72,1.76,-1.77,1.8,-1.82,1.83,-1.86,1.86,-1.89,1.88,-1.91,1.92,-1.93,1.95,-1.94,1.97,-1.95,1.98,-1.96,2,-1.97,2];
const B8_g=[1,1.11,1.22,1.33,1.38,1.44,1.49,1.53,1.57,1.61,1.64,1.67,1.7,1.73,1.77,1.8,1.84,1.89,1.94,2];
const B8_h=[1,-1.11,1.2,-1.25,1.37,-1.37,1.5,-1.47,1.6,-1.56,1.67,-1.64,1.72,-1.68,1.76,-1.73,1.78,-1.77,1.8,-1.82,1.83,-1.84,1.85,-1.85,1.85,-1.85,1.85,-1.83,1.83,-1.8,1.8,-1.76,1.77,-1.73,1.73,-1.68,1.66,-1.62,1.61,-1.56,1.55,-1.48,1.47,-1.4,1.37,-1.28,1.25,-1.14,1.09,-0.98];

const B9_a=[1,1,0.99,0.99,0.99,0.98,0.98,0.98,0.97,0.97,0.96,0.95,0.94,0.92,0.9,0.88,0.86,0.84,0.81,0.78,0.75,0.72,0.69,0.66,0.63,0.6,0.58,0.55,0.52,0.49,0.46,0.43,0.4,0.37,0.32,0.26,0.2,0.14,0.05,0,0,0,0,0,0,0,0,0,0,0];
const B9_b=[1,-1.18,1.3,-1.44,1.56,-1.71,1.82,-1.95];
const B9_c=[1,1,1,1,1,1,1,1,1,1,1,1,1,1,1,1,1,1,1,1,1,1,1,1,0.99,0.99,0.99,0.99,0.99,0.99,0.99,0.99,0.99,0.99,0.99,0.99,0.99,0.99,0.99,0.99,0.99,0.99,0.99,0.99,0.99,0.99,0.99,0.99,0.99,0.99];
const B9_d=[1,-1.1,1.2,-1.21,1.32,-1.3,1.4,-1.37,1.47,-1.42,1.5,-1.45,1.51,-1.47,1.52,-1.48,1.52,-1.49,1.52,-1.48,1.51,-1.48,1.49,-1.45,1.45,-1.42,1.41,-1.37,1.37,-1.32,1.33,-1.26,1.26,-1.2,1.18,-1.14,1.11,-1.04,1.02,-0.95,0.92,-0.83,0.81,-0.71,0.66,-0.57,0.5,-0.41,0.31,-0.19];
const B9_e=[1,0.99,0.99,0.98,0.98,0.98,0.97,0.97,0.97,0.96,0.96,0.96,0.95,0.95,0.95,0.94,0.94,0.94,0.93,0.93,0.93,0.92,0.92,0.92,0.91,0.91,0.9,0.9,0.9,0.89,0.89,0.88,0.88,0.87,0.87,0.87,0.86,0.86,0.85,0.85,0.84,0.84,0.83,0.83,0.82,0.82,0.81,0.8,0.8,0.79];
const B9_f=[1,-1.1,1.22,-1.28,1.4,-1.45,1.55,-1.58,1.69,-1.73,1.8,-1.85,1.92,-1.94];
const B9_g=[1,1.11,1.19,1.26,1.32,1.37,1.43,1.49,1.54,1.58,1.63,1.68,1.71,1.75,1.79,1.83,1.87,1.9,1.94,1.97,2];
const B9_h=[1,-1.09,1.23,-1.26,1.39,-1.37,1.52,-1.47,1.61,-1.55,1.68,-1.61,1.73,-1.68,1.77,-1.73,1.8,-1.77,1.83,-1.8,1.85,-1.82,1.85,-1.83,1.85,-1.83,1.85,-1.83,1.83,-1.82,1.8,-1.78,1.77,-1.75,1.73,-1.7,1.68,-1.64,1.63,-1.56,1.56,-1.48,1.47,-1.4,1.37,-1.28,1.25,-1.14,1.09,-0.98];

// ---------- labels ----------
const Y1_VALUES = ['1','3','5','10','30','50','100','300','500'];
const N1_VALUES = ['10','100','1000'];
const LEGEND_NAMES = ['a','b','c','d','e','f','g','h'];
const TOP_X_LABELS = [1, 10, 100, 1000];
const BOT_X_LABELS = [1, 10, 20, 30, 40, 50];

// ---------- panels (built from the arrays above) ----------
const TOP_PANELS = [
 {a:T1_a,b:T1_b,c:T1_c,d:T1_d,e:T1_e,f:T1_f,g:T1_g,h:T1_h},
 {a:T2_a,b:T2_b,c:T2_c,d:T2_d,e:T2_e,f:T2_f,g:T2_g,h:T2_h},
 {a:T3_a,b:T3_b,c:T3_c,d:T3_d,e:T3_e,f:T3_f,g:T3_g,h:T3_h},
 {a:T4_a,b:T4_b,c:T4_c,d:T4_d,e:T4_e,f:T4_f,g:T4_g,h:T4_h},
 {a:T5_a,b:T5_b,c:T5_c,d:T5_d,e:T5_e,f:T5_f,g:T5_g,h:T5_h},
 {a:T6_a,b:T6_h,c:T6_ce,e:T6_ce,g:T6_g,h:T6_h},
 {a:T7_a,b:T7_b,c:T7_c,d:T7_d,e:T7_e,f:T7_f,g:T7_g,h:T7_h},
 {a:T8_a,b:T8_b,c:T8_c,d:T8_d,e:T8_e,f:T8_f,g:T8_g,h:T8_h},
 {a:T9_a,b:T9_b,c:T9_c,d:T9_d,e:T9_e,f:T9_f,g:T9_g,h:T9_h}
];
const BOT_PANELS = [
 {a:B1_a,b:B1_b,c:B1_c,d:B1_d,e:B1_e,f:B1_f,g:B1_g,h:B1_h},
 {a:B2_a,b:B2_b,c:B2_c,d:B2_d,e:B2_e,f:B2_f,g:B2_g,h:B2_h},
 {a:B3_a,b:B3_b,c:B3_c,d:B3_d,e:B3_e,f:B3_f,g:B3_g,h:B3_h},
 {a:B4_a,b:B4_b,c:B4_c,d:B4_d,e:B4_e,f:B4_f,g:B4_g,h:B4_h},
 {a:B5_a,b:B5_b,c:B5_c,d:B5_d,e:B5_e,f:B5_f,g:B5_g,h:B5_h},
 {a:B6_a,b:B6_h,c:B6_ce,e:B6_ce,g:B6_g,h:B6_h},
 {a:B7_a,b:B7_b,c:B7_c,d:B7_d,e:B7_e,f:B7_f,g:B7_g,h:B7_h},
 {a:B8_a,b:B8_b,c:B8_c,d:B8_d,e:B8_e,f:B8_f,g:B8_g,h:B8_h},
 {a:B9_a,b:B9_b,c:B9_c,d:B9_d,e:B9_e,f:B9_f,g:B9_g,h:B9_h}
];

// ---------- styling ----------
const SANS = 'Liberation Sans';
const SERIF = 'Liberation Serif';
const COLORS = {a:'#0072BD',b:'#D95319',c:'#EDB120',d:'#7E2F8E',e:'#77AC30',f:'#4DBEEE',g:'#A2142F',h:'#0072BD'};
const S_TDOWN = 'path://M0,0L10,0L5,8.66Z';
const S_TLEFT = 'path://M8.66,0L8.66,10L0,5Z';
const S_TRIGHT = 'path://M0,0L0,10L8.66,5Z';
const S_TUP = 'path://M5,0L10,8.66L0,8.66Z';
const S_STAR = 'path://M50,0L61.2,34.5L97.6,34.5L68.2,55.9L79.4,90.5L50,69.1L20.6,90.5L31.8,55.9L2.4,34.5L38.8,34.5Z';
const PLOT_SYM = {a:'circle',b:S_TDOWN,c:'rect',d:S_TLEFT,e:'diamond',f:S_TRIGHT,g:S_TUP,h:S_STAR};
const LEG_SYM = {a:'circle',b:'rect',c:'diamond',d:S_TUP,e:S_TDOWN,f:S_TLEFT,g:S_TRIGHT,h:S_STAR};
const BOT_SIZE = {a:5, b:6.5, c:4.6, d:6.5, e:[5,7], f:6.5, g:6.5, h:8};

const COL_LEFT = [117.5, 428.8, 741];
const COL_W = [280, 280, 279];
const TOP_ROWS = [42.3, 256.7, 471.7];
const BOT_ROWS = [725, 940, 1154];
const PH = 139.5;

const minus = s => String(s).replace('-', '\u2212');
const XT_TICKS = [];
for (let d = 0; d < 3; d++) for (let k = 1; k < 10; k++) XT_TICKS.push(Math.log10(k * Math.pow(10, d)));
XT_TICKS.push(3);

const grids = [], xAxes = [], yAxes = [], series = [], graphics = [];
const axisLineStyle = {show: true, onZero: false, lineStyle: {color: '#000', width: 1}};
const tickLabelStyle = {color: '#000', fontFamily: SERIF, fontSize: 16};
const yRich = {
  b: {fontFamily: SERIF, fontSize: 16, color: '#000'},
  s: {fontFamily: SERIF, fontSize: 11, color: '#000', padding: [0, 0, 11, 1]}
};

function addTitle(cx, cy, val) {
  graphics.push({type: 'text', x: cx, y: cy, z: 5, style: {
    text: '{m|y}{s|1}{m|=' + val + '}', align: 'center', verticalAlign: 'middle', fill: '#000',
    rich: {m: {fontFamily: SANS, fontSize: 19, fill: '#000'}, s: {fontFamily: SANS, fontSize: 14, fill: '#000', padding: [16, 3, 0, 6]}}
  }});
}

// TOP panels
TOP_PANELS.forEach((p, i) => {
  const r = Math.floor(i / 3), c = i % 3;
  grids.push({left: COL_LEFT[c], top: TOP_ROWS[r], width: COL_W[c], height: PH});
  xAxes.push({
    gridIndex: i, type: 'value', min: 0, max: 3,
    axisLine: axisLineStyle,
    axisTick: {show: true, inside: true, length: 3, customValues: XT_TICKS, lineStyle: {color: '#000'}},
    axisLabel: {show: true, margin: 8, customValues: TOP_X_LABELS.map(v => Math.log10(v)), formatter: v => String(Math.round(Math.pow(10, v))), ...tickLabelStyle},
    splitLine: {show: false},
    name: r === 2 ? 'Term number' : '', nameLocation: 'middle', nameGap: 30,
    nameTextStyle: {fontFamily: SANS, fontSize: 20, color: '#000', verticalAlign: 'top'}
  });
  yAxes.push({
    gridIndex: i, type: 'value', min: -16, max: 16, interval: 8,
    axisLine: axisLineStyle,
    axisTick: {show: true, inside: true, length: 4, lineStyle: {color: '#000'}},
    minorTick: {show: true, splitNumber: 4, length: 2.5, lineStyle: {color: '#000'}},
    axisLabel: {show: c === 0, margin: 7, formatter: v => '{b|10}{s|' + minus(v) + '}', rich: yRich},
    splitLine: {show: true, lineStyle: {color: '#e2e2e2', width: 1}}
  });
  LEGEND_NAMES.forEach(k => {
    const pts = p[k];
    if (!pts) return;
    const data = pts.map(q => [Math.log10(q[0]), q[1]]);
    series.push({type: 'line', name: 'T' + i + k, xAxisIndex: i, yAxisIndex: i, data: data,
      smooth: 0.35, symbol: 'none', silent: true, animation: false,
      lineStyle: {color: COLORS[k], width: 1.1}, z: 2});
    series.push({type: 'scatter', name: 'T' + i + k + 'end', xAxisIndex: i, yAxisIndex: i,
      data: [data[data.length - 1]], symbol: PLOT_SYM[k], symbolKeepAspect: true,
      symbolSize: k === 'h' ? 10 : (k === 'e' ? [7, 10] : 8), clip: false, silent: true, animation: false,
      itemStyle: {color: COLORS[k]}, z: 3});
  });
  addTitle(COL_LEFT[c] + COL_W[c] / 2 - 4, TOP_ROWS[r] - 20, Y1_VALUES[i]);
});

// BOTTOM panels
const botLabel = {'2': '{b|10}{s|16}', '1': '{b|10}{s|0}', '0': '{b|\u00b110}{s|\u221216}', '-1': '{b|\u221210}{s|0}', '-2': '{b|\u221210}{s|16}'};
BOT_PANELS.forEach((p, j) => {
  const i = 9 + j;
  const r = Math.floor(j / 3), c = j % 3;
  grids.push({left: COL_LEFT[c], top: BOT_ROWS[r], width: COL_W[c], height: PH});
  xAxes.push({
    gridIndex: i, type: 'value', min: 1, max: 50,
    axisLine: axisLineStyle,
    axisTick: {show: true, inside: true, length: 4, customValues: BOT_X_LABELS, lineStyle: {color: '#000'}},
    axisLabel: {show: true, margin: 10, customValues: BOT_X_LABELS, ...tickLabelStyle},
    splitLine: {show: false},
    name: r === 2 ? 'Term number' : '', nameLocation: 'middle', nameGap: 36,
    nameTextStyle: {fontFamily: SANS, fontSize: 20, color: '#000', verticalAlign: 'top'}
  });
  yAxes.push({
    gridIndex: i, type: 'value', min: -2, max: 2, interval: 1,
    axisLine: axisLineStyle,
    axisTick: {show: true, inside: true, length: 4, lineStyle: {color: '#000'}},
    axisLabel: {show: c === 0, margin: 7, formatter: v => botLabel[String(v)], rich: yRich},
    splitLine: {show: true, lineStyle: {color: '#e2e2e2', width: 1}}
  });
  LEGEND_NAMES.forEach(k => {
    const arr = p[k];
    if (!arr) return;
    series.push({type: 'scatter', name: 'B' + j + k, xAxisIndex: i, yAxisIndex: i,
      data: arr.map((v, t) => [t + 1, v]), symbol: PLOT_SYM[k], symbolKeepAspect: true,
      symbolSize: BOT_SIZE[k], clip: false, silent: true, animation: false,
      itemStyle: {color: COLORS[k]}, z: 2});
  });
  addTitle(COL_LEFT[c] + COL_W[c] / 2 - 4, BOT_ROWS[r] - 20, Y1_VALUES[j]);
});

// legend dummy series
LEGEND_NAMES.forEach(k => {
  series.push({type: 'line', name: k, xAxisIndex: 0, yAxisIndex: 0, data: [],
    symbol: LEG_SYM[k], symbolKeepAspect: true, symbolSize: 9,
    lineStyle: {color: COLORS[k], width: 1.2}, itemStyle: {color: COLORS[k]}});
});

// row labels
const nRich = {m: {fontFamily: SANS, fontSize: 19, fill: '#000'}, s: {fontFamily: SANS, fontSize: 14, fill: '#000', padding: [15, 3, 0, 5]}};
TOP_ROWS.forEach((t, r) => {
  const cy = t + PH / 2;
  graphics.push({type: 'text', x: 22, y: cy + 12, rotation: Math.PI / 2, z: 5,
    style: {text: '{m|n}{s|1}{m|=' + N1_VALUES[r] + '}', rich: nRich, align: 'center', verticalAlign: 'middle', fill: '#000'}});
  graphics.push({type: 'text', x: 50, y: cy + 10, rotation: Math.PI / 2, z: 5,
    style: {text: 'Relative error', fontFamily: SANS, fontSize: 19, align: 'center', verticalAlign: 'middle', fill: '#000'}});
});
BOT_ROWS.forEach((t, r) => {
  const cy = t + PH / 2;
  graphics.push({type: 'text', x: 22, y: cy + 16, rotation: Math.PI / 2, z: 5,
    style: {text: '{m|n}{s|1}{m|=' + N1_VALUES[r] + '}', rich: nRich, align: 'center', verticalAlign: 'middle', fill: '#000'}});
});
// separator
graphics.push({type: 'line', z: 10, shape: {x1: 0, y1: 686, x2: 1042, y2: 686}, style: {stroke: '#000', lineWidth: 2}});
// watermark
graphics.push({type: 'text', x: 485, y: 805, rotation: 0.93, z: -5, silent: true,
  style: {text: 'UNCORRECTED PROOF', fontFamily: SANS, fontWeight: 'bold', fontSize: 140, fill: '#d9d9d9', align: 'center', verticalAlign: 'middle'}});

const option = {
  animation: false,
  backgroundColor: '#fff',
  grid: grids, xAxis: xAxes, yAxis: yAxes, series: series,
  legend: {data: LEGEND_NAMES, left: 218, top: 1377, itemWidth: 56, itemHeight: 12, itemGap: 10,
    selectedMode: false, padding: 0, textStyle: {fontFamily: SANS, fontSize: 17, color: '#000', padding: [2, 0, 0, 0]}},
  graphic: graphics
};
const chart = echarts.init(document.getElementById('c'), null, {renderer: 'canvas'});
chart.setOption(option);
</script></body></html>
